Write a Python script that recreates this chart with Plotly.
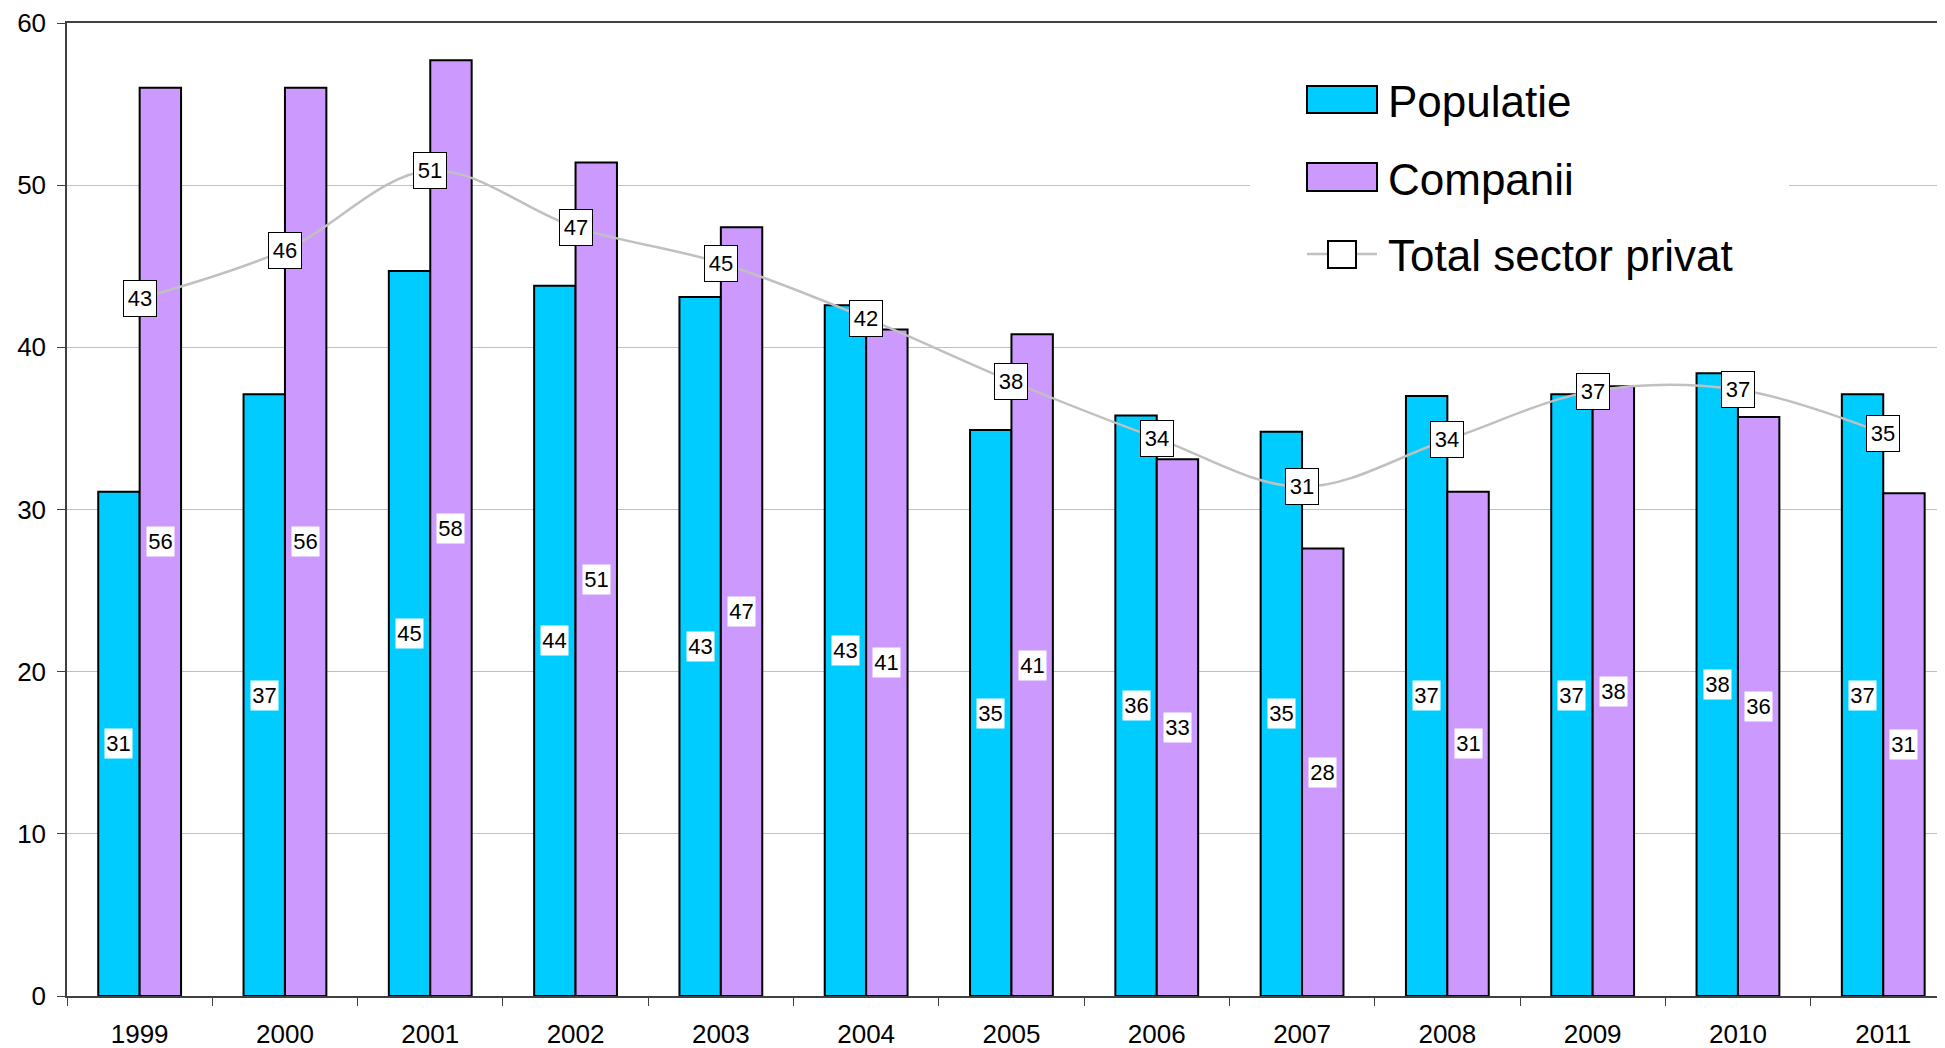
import plotly.graph_objects as go

# ---- data ----
years = ["1999", "2000", "2001", "2002", "2003", "2004", "2005", "2006",
         "2007", "2008", "2009", "2010", "2011"]
populatie = [31.1, 37.1, 44.7, 43.8, 43.1, 42.6, 34.9, 35.8, 34.8, 37.0, 37.1, 38.4, 37.1]
companii = [56.0, 56.0, 57.7, 51.4, 47.4, 41.1, 40.8, 33.1, 27.6, 31.1, 37.6, 35.7, 31.0]
total = [43.0, 46.0, 50.9, 47.4, 45.2, 41.8, 37.9, 34.4, 31.4, 34.3, 37.3, 37.4, 34.7]
series_names = ["Populatie", "Companii", "Total sector privat"]
y_ticks = [0, 10, 20, 30, 40, 50, 60]

# ---- style ----
OFF = 8  # page body margin
W, H = 1945 - OFF, 1048 - OFF
ML, MT, MB, MR = 67 - OFF, 23 - OFF, 52, 0
FONT = "Arial, Liberation Sans, Helvetica, sans-serif"
C_POP = "#00CCFF"
C_COMP = "#CC99FF"
C_LINE = "#C0C0C0"
BARGAP = 0.43
NCAT_VISIBLE = 12.925

plot_w = W - ML - MR
plot_h = H - MT - MB


def px_x(px):
    # px given in page coordinates
    return (px - OFF - ML) / plot_w


def px_y(py):
    return (H - MB - (py - OFF)) / plot_h


fig = go.Figure()
fig.add_trace(go.Bar(x=years, y=populatie, name=series_names[0],
                     marker=dict(color=C_POP, line=dict(color="black", width=2)),
                     showlegend=False))
fig.add_trace(go.Bar(x=years, y=companii, name=series_names[1],
                     marker=dict(color=C_COMP, line=dict(color="black", width=2)),
                     showlegend=False))
fig.add_trace(go.Scatter(x=years, y=total, name=series_names[2], mode="lines+markers",
                         line=dict(color=C_LINE, width=2.5, shape="spline", smoothing=1.0),
                         marker=dict(symbol="square", size=24, color="white",
                                     line=dict(color="black", width=1.5)),
                         showlegend=False))

bar_w = (1 - BARGAP) / 2
annotations = []
for i, (p, c, t) in enumerate(zip(populatie, companii, total)):
    annotations.append(dict(x=i - bar_w / 2, y=p / 2, xref="x", yref="y",
                            text=str(round(p)), showarrow=False,
                            font=dict(family=FONT, size=22, color="black"),
                            bgcolor="white", borderpad=1, width=25, height=27))
    annotations.append(dict(x=i + bar_w / 2, y=c / 2, xref="x", yref="y",
                            text=str(round(c)), showarrow=False,
                            font=dict(family=FONT, size=22, color="black"),
                            bgcolor="white", borderpad=1, width=25, height=27))
    annotations.append(dict(x=i, y=t, xref="x", yref="y",
                            text=str(round(t)), showarrow=False,
                            font=dict(family=FONT, size=22, color="black"),
                            bgcolor="white", bordercolor="black", borderwidth=1,
                            borderpad=1, width=30, height=33))

# ---- manual legend ----
shapes = [
    dict(type="rect", xref="paper", yref="paper", layer="above",
         x0=px_x(1250), x1=px_x(1789), y0=px_y(300), y1=px_y(45),
         fillcolor="white", line=dict(width=0)),
    dict(type="rect", xref="paper", yref="paper", layer="above",
         x0=px_x(1307), x1=px_x(1377), y0=px_y(113), y1=px_y(86),
         fillcolor=C_POP, line=dict(color="black", width=2)),
    dict(type="rect", xref="paper", yref="paper", layer="above",
         x0=px_x(1307), x1=px_x(1377), y0=px_y(191), y1=px_y(163),
         fillcolor=C_COMP, line=dict(color="black", width=2)),
    dict(type="line", xref="paper", yref="paper", layer="above",
         x0=px_x(1307), x1=px_x(1377), y0=px_y(254), y1=px_y(254),
         line=dict(color=C_LINE, width=2.5)),
    dict(type="rect", xref="paper", yref="paper", layer="above",
         x0=px_x(1328), x1=px_x(1356), y0=px_y(268), y1=px_y(241),
         fillcolor="white", line=dict(color="black", width=2)),
]
for name, cy in zip(series_names, [101, 179, 255]):
    annotations.append(dict(x=px_x(1386), y=px_y(cy), xref="paper", yref="paper",
                            xanchor="left", yanchor="middle", text=name, showarrow=False,
                            font=dict(family=FONT, size=44, color="black")))

fig.update_layout(
    width=W, height=H,
    margin=dict(l=ML, r=MR, t=MT, b=MB, pad=0),
    paper_bgcolor="white", plot_bgcolor="white",
    barmode="group", bargap=BARGAP, bargroupgap=0,
    font=dict(family=FONT, color="black"),
    showlegend=False,
    annotations=annotations,
    shapes=shapes,
    xaxis=dict(type="category", range=[-0.5, NCAT_VISIBLE - 0.5],
               showgrid=False, showline=True, linecolor="#404040", linewidth=1.5,
               mirror=True,
               ticks="outside", tickson="boundaries", ticklen=8, tickcolor="#404040",
               ticklabelstandoff=14,
               tickfont=dict(family=FONT, size=26, color="black"),
               zeroline=False, fixedrange=True),
    yaxis=dict(range=[0, 60], tickvals=y_ticks, showgrid=True, gridcolor=C_LINE,
               gridwidth=1, showline=True, linecolor="#404040", linewidth=1.5,
               ticks="outside", ticklen=8, tickcolor="#404040",
               ticklabelstandoff=6,
               tickfont=dict(family=FONT, size=26, color="black"),
               zeroline=False, fixedrange=True),
)

fig.write_html("out.html")
